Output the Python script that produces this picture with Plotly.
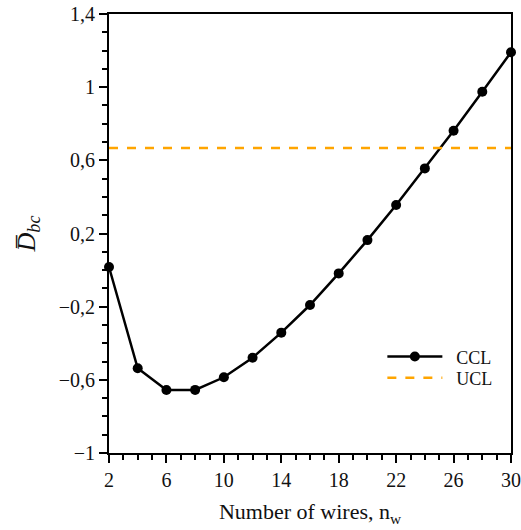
import plotly.graph_objects as go

n_wires = [2, 4, 6, 8, 10, 12, 14, 16, 18, 20, 22, 24, 26, 28, 30]
ccl = [0.017, -0.537, -0.656, -0.655, -0.586, -0.479, -0.342, -0.191, -0.018, 0.164, 0.356, 0.556, 0.762, 0.975, 1.191]
ucl_value = 0.667
x_ticks = [2, 6, 10, 14, 18, 22, 26, 30]
y_ticks = [-1, -0.6, -0.2, 0.2, 0.6, 1, 1.4]
y_tick_labels = ["\u22121", "\u22120,6", "\u22120,2", "0,2", "0,6", "1", "1,4"]

FONT = "Liberation Serif"
TXT = "#111"

fig = go.Figure()
fig.add_trace(go.Scatter(
    x=n_wires, y=ccl, mode="lines+markers", name="\u00a0\u00a0CCL",
    line=dict(color="black", width=2.5),
    marker=dict(color="black", size=10),
    cliponaxis=False, legend="legend", showlegend=True,
))
fig.add_trace(go.Scatter(
    x=[n_wires[0], n_wires[-1]], y=[ucl_value, ucl_value], mode="lines", name="\u00a0\u00a0UCL",
    line=dict(color="#FFA500", width=2.5, dash="dash"), legend="legend2", showlegend=True,
))

axis_common = dict(
    showgrid=False, zeroline=False, showline=True, linecolor="black", linewidth=2,
    mirror=True, ticks="outside", ticklen=8, tickwidth=2, tickcolor="black",
    tickfont=dict(family=FONT, size=20, color=TXT), automargin=False,
)
fig.update_xaxes(
    range=[2, 30], tickvals=x_ticks,
    minor=dict(dtick=1, tick0=2, ticks="outside", ticklen=5, tickwidth=1.5, tickcolor="black"),
    title=dict(text="Number of wires, n<sub>w</sub>", font=dict(family=FONT, size=22, color=TXT), standoff=14),
    **axis_common,
)
fig.update_yaxes(
    range=[-1, 1.4], tickvals=y_ticks, ticktext=y_tick_labels,
    minor=dict(dtick=0.1, tick0=-1, ticks="outside", ticklen=5, tickwidth=1.5, tickcolor="black"),
    title=dict(text="<i>D\u0305</i><sub><i>bc</i></sub>", font=dict(family=FONT, size=26, color=TXT), standoff=16),
    **axis_common,
)
legend_common = dict(xanchor="left", yanchor="middle", visible=True,
                     font=dict(family=FONT, size=18, color=TXT),
                     bgcolor="rgba(0,0,0,0)", itemwidth=55)
fig.update_layout(
    width=521, height=530,
    margin=dict(l=109, r=10, t=14, b=77),
    plot_bgcolor="white", paper_bgcolor="white",
    separators=", ",
    showlegend=True,
    legend=dict(x=0.68, y=0.219, **legend_common),
    legend2=dict(x=0.68, y=0.171, **legend_common),
    font=dict(family=FONT),
)
fig.write_html("out.html", config={"displayModeBar": False},
               post_script="document.body.style.margin='0';document.body.style.overflow='hidden';")
